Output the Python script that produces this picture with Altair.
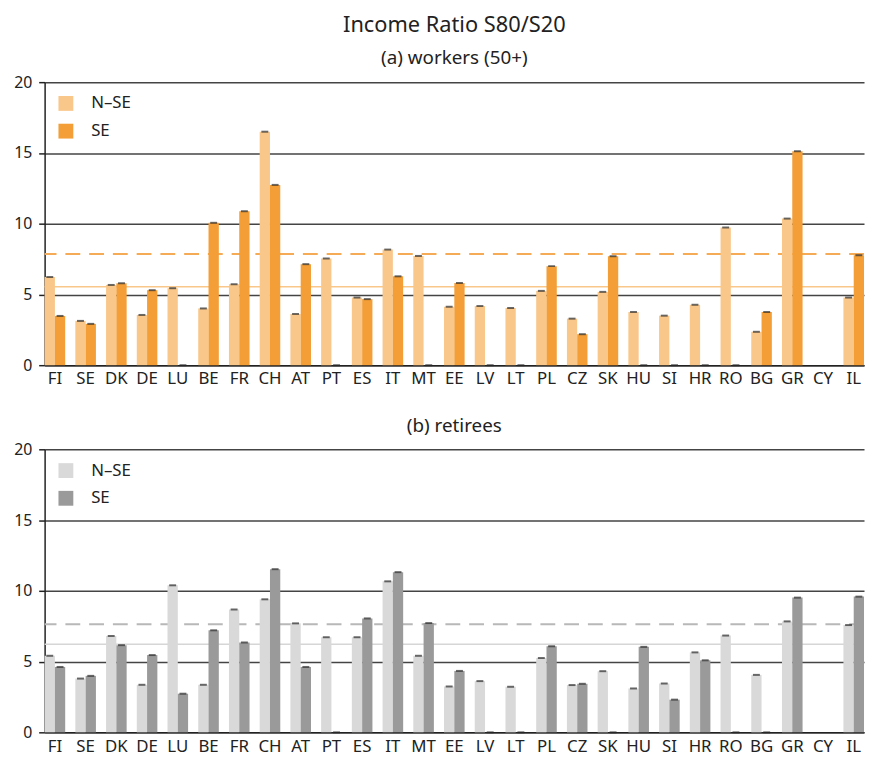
import altair as alt
import pandas as pd

FONT = "Noto Sans"

countries = ["FI", "SE", "DK", "DE", "LU", "BE", "FR", "CH", "AT", "PT", "ES", "IT", "MT", "EE",
             "LV", "LT", "PL", "CZ", "SK", "HU", "SI", "HR", "RO", "BG", "GR", "CY", "IL"]
groups = ["N–SE", "SE"]

workers_nse = [6.23, 3.13, 5.67, 3.55, 5.44, 4.01, 5.72, 16.5, 3.62, 7.54, 4.78, 8.17, 7.72, 4.13,
               4.18, 4.04, 5.25, 3.29, 5.18, 3.76, 3.50, 4.27, 9.73, 2.36, 10.36, None, 4.78]
workers_se = [3.48, 2.92, 5.79, 5.30, 0, 10.06, 10.88, 12.74, 7.14, 0, 4.67, 6.28, 0, 5.81,
              0, 0, 7.00, 2.19, 7.70, 0, 0, 0, 0, 3.76, 15.12, None, 7.77]
retirees_nse = [5.41, 3.80, 6.81, 3.36, 10.39, 3.36, 8.68, 9.40, 7.70, 6.72, 6.72, 10.67, 5.41, 3.24,
                3.62, 3.22, 5.25, 3.34, 4.32, 3.10, 3.45, 5.65, 6.84, 4.06, 7.84, None, 7.58]
retirees_se = [4.62, 3.99, 6.16, 5.46, 2.73, 7.21, 6.35, 11.53, 4.62, 0, 8.05, 11.32, 7.72, 4.34,
               0, 0, 6.09, 3.43, 0, 6.04, 2.31, 5.09, 0, 0, 9.52, None, 9.59]

# averages: [N-SE (solid), SE (dashed)]
workers_avg = [5.55, 7.86]
retirees_avg = [6.23, 7.63]

y_ticks = [0, 5, 10, 15, 20]


def panel(nse, se, avg, bar_colors, line_colors, title):
    rows = []
    for c, a, b in zip(countries, nse, se):
        if a is not None:
            rows.append({"country": c, "group": groups[0], "value": a})
        if b is not None:
            rows.append({"country": c, "group": groups[1], "value": b})
    df = pd.DataFrame(rows)

    x = alt.X("country:N", sort=countries, title=None,
              scale=alt.Scale(domain=countries, paddingInner=0.33, paddingOuter=0))
    xo = alt.XOffset("group:N", scale=alt.Scale(domain=groups, paddingInner=0, paddingOuter=0))
    yscale = alt.Scale(domain=[0, 20], nice=False)

    bars = alt.Chart(df).mark_bar().encode(
        x=x, xOffset=xo,
        y=alt.Y("value:Q", scale=yscale, title=None,
                axis=alt.Axis(values=y_ticks)),
        color=alt.Color("group:N", scale=alt.Scale(domain=groups, range=bar_colors),
                        legend=alt.Legend(orient="none", legendX=13, legendY=13, title=None,
                                          symbolType="square", symbolSize=225,
                                          symbolStrokeWidth=0, labelFontSize=17,
                                          labelFont=FONT, labelColor="#222",
                                          labelOffset=17, rowPadding=10, padding=0)),
    )
    caps = alt.Chart(df).mark_tick(size=7, thickness=2, color="#2a2a2a").encode(
        x=x, xOffset=xo, y=alt.Y("value:Q", scale=yscale, title=None)
    )
    solid = alt.Chart(pd.DataFrame({"v": avg[:1]})).mark_rule(
        color=line_colors[0], strokeWidth=1.5
    ).encode(y=alt.Y("v:Q", scale=yscale, title=None))
    dashed = alt.Chart(pd.DataFrame({"v": avg[1:]})).mark_rule(
        color=line_colors[1], strokeWidth=2, strokeDash=[15, 9]
    ).encode(y=alt.Y("v:Q", scale=yscale, title=None))

    return alt.layer(solid, dashed, bars, caps).properties(
        width=828, height=286, title=title
    )


top = panel(workers_nse, workers_se, workers_avg,
            ["#F9C78A", "#F39E36"], ["#F9C78A", "#F5AA55"],
            alt.TitleParams("Income Ratio S80/S20", subtitle="(a) workers (50+)",
                            anchor="middle", frame="group", fontSize=22,
                            subtitleFontSize=19, font=FONT, subtitleFont=FONT,
                            fontWeight="normal", color="#222", subtitleColor="#222",
                            subtitlePadding=13, offset=5))
bottom = panel(retirees_nse, retirees_se, retirees_avg,
               ["#D9D9D9", "#9A9A9A"], ["#D6D6D6", "#B8B8B8"],
               alt.TitleParams("(b) retirees", anchor="middle", frame="group",
                               fontSize=19, font=FONT, fontWeight="normal",
                               color="#222", offset=5))

chart = alt.vconcat(top, bottom, spacing=31).resolve_scale(
    color="independent"
).configure(
    padding={"left": 0, "top": 2, "right": 0, "bottom": 0}
).configure_view(
    stroke=None
).configure_axisX(
    labelAngle=0, labelFontSize=17, labelFont=FONT, labelColor="#222",
    ticks=False, domainColor="#222", domainWidth=1.5, labelPadding=6, grid=False
).configure_axisY(
    labelFontSize=16, labelFont=FONT, labelColor="#222", tickColor="#222",
    tickSize=6, tickWidth=1.5, domainColor="#222", domainWidth=1.5,
    gridColor="#444", gridWidth=1.5, labelPadding=7, minExtent=37, maxExtent=37
)

chart.save("out.html", embed_options={"renderer": "svg", "actions": False})
